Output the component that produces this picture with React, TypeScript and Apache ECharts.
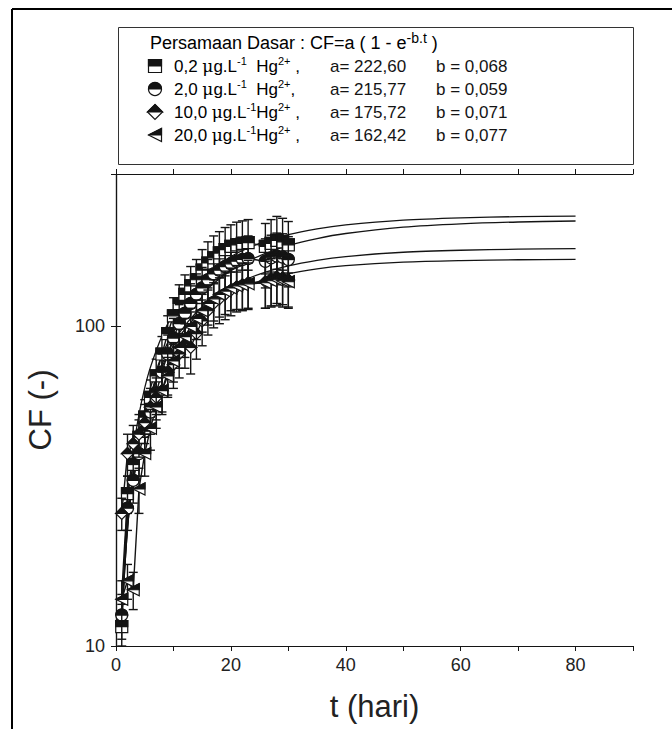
import React, { useEffect, useRef } from 'react';
import * as echarts from 'echarts';

// ---- data ----
const days = [1, 2, 3, 4, 5, 6, 7, 8, 9, 10, 11, 12, 13, 14, 15, 16, 17, 18, 19, 20, 21, 22, 23, 26, 27, 28, 29, 30];

const cf02 = [11.5, 30, 37, 45, 52, 60, 70, 82, 95, 108, 118, 126, 134, 140, 150, 158, 164, 170, 174, 178, 180, 182, 183, 178, 182, 186, 184, 180];
const err02 = [2, 4, 5, 6, 7, 8, 9, 11, 13, 15, 17, 19, 20, 22, 24, 26, 28, 28, 30, 30, 32, 32, 33, 32, 34, 35, 34, 33];

const cf20 = [12.5, 27, 33, 40, 47, 54, 62, 72, 82, 92, 102, 110, 118, 126, 132, 140, 146, 150, 154, 157, 160, 162, 163, 160, 164, 166, 165, 162];
const err20 = [2, 4, 5, 6, 7, 8, 9, 10, 12, 14, 15, 17, 18, 20, 21, 22, 24, 25, 26, 27, 28, 28, 29, 28, 29, 30, 30, 29];

const cf100 = [26, 40, 43, 46, 50, 56, 60, 63, 72, 76, 82, 88, 86, 95, 104, 112, 118, 122, 126, 130, 133, 135, 137, 138, 141, 143, 142, 140];
const err100 = [3, 6, 6, 7, 7, 8, 9, 10, 11, 12, 13, 14, 15, 16, 17, 18, 19, 20, 21, 22, 22, 23, 24, 24, 25, 25, 25, 25];

const cf200 = [14, 16, 15, 31, 40, 48, 56, 63, 70, 78, 86, 93, 100, 106, 112, 118, 122, 126, 129, 132, 134, 135, 136, 137, 139, 140, 139, 138];
const err200 = [2, 2, 2, 5, 6, 7, 8, 9, 10, 11, 12, 13, 14, 15, 16, 17, 18, 19, 20, 20, 21, 22, 22, 23, 24, 24, 24, 24];

// fitted curves CF = a(1 - e^(-b t))
const fitT = [1, 2, 3, 4, 5, 6, 8, 10, 12, 15, 20, 25, 30, 35, 40, 50, 60, 70, 80];
const fit02 = [14.6, 28.3, 41.1, 53.0, 64.2, 74.6, 93.4, 109.8, 124.2, 142.3, 165.5, 181.9, 193.7, 202.0, 207.9, 215.2, 218.8, 220.7, 221.6];
const fit20 = [12.4, 24.0, 35.0, 45.4, 55.1, 64.3, 81.2, 96.2, 109.5, 126.7, 149.5, 166.4, 179.0, 188.4, 195.4, 204.5, 209.5, 212.3, 213.8];
const fit100 = [12.0, 23.3, 33.7, 43.4, 52.5, 61.0, 76.2, 89.3, 100.8, 115.1, 133.2, 145.9, 154.8, 161.1, 165.5, 170.7, 173.2, 174.5, 175.1];
const fit200 = [12.0, 23.2, 33.5, 43.1, 51.9, 60.1, 74.7, 87.2, 98.0, 111.3, 127.6, 138.7, 146.3, 151.5, 155.0, 159.0, 160.8, 161.7, 162.1];

const legendConc = ['0,2', '2,0', '10,0', '20,0'];
const legendA = ['222,60', '215,77', '175,72', '162,42'];
const legendB = ['0,068', '0,059', '0,071', '0,077'];
const shapes = ['square', 'circle', 'diamond', 'triangle'];
const xLabels = [0, 20, 40, 60, 80];
const yLabels = [10, 100];

const FONT = '"Liberation Sans", Arial, Helvetica, sans-serif';
const INK = '#141414';

function markerEls(shape: string, cx: number, cy: number, s: number): any[] {
  const h = s / 2;
  const st = { stroke: INK, lineWidth: 1.2 };
  switch (shape) {
    case 'square':
      return [
        { type: 'rect', shape: { x: cx - h, y: cy - h, width: s, height: s }, style: { ...st, fill: '#fff' } },
        { type: 'rect', shape: { x: cx - h, y: cy - h, width: s, height: h }, style: { ...st, fill: INK } },
      ];
    case 'circle':
      return [
        { type: 'circle', shape: { cx, cy, r: h }, style: { ...st, fill: '#fff' } },
        { type: 'sector', shape: { cx, cy, r: h, r0: 0, startAngle: Math.PI, endAngle: Math.PI * 2, clockwise: true }, style: { ...st, fill: INK } },
      ];
    case 'diamond':
      return [
        { type: 'polygon', shape: { points: [[cx, cy - h], [cx + h, cy], [cx, cy + h], [cx - h, cy]] }, style: { ...st, fill: '#fff' } },
        { type: 'polygon', shape: { points: [[cx - h, cy], [cx, cy - h], [cx + h, cy]] }, style: { ...st, fill: INK } },
      ];
    default:
      return [
        { type: 'polygon', shape: { points: [[cx - h, cy], [cx + h, cy - h], [cx + h, cy + h]] }, style: { ...st, fill: '#fff' } },
        { type: 'polygon', shape: { points: [[cx - h, cy], [cx + h, cy - h], [cx + h, cy]] }, style: { ...st, fill: INK } },
      ];
  }
}

function makeRenderer(shape: string) {
  return (params: any, api: any) => {
    const t = api.value(0);
    const v = api.value(1);
    const e = api.value(2);
    const c = api.coord([t, v]);
    const hi = api.coord([t, v + e]);
    const lo = api.coord([t, Math.max(v - e, 10)]);
    const cap = 4.5;
    const ls = { stroke: INK, lineWidth: 1.4 };
    return {
      type: 'group',
      children: [
        { type: 'line', shape: { x1: c[0], y1: hi[1], x2: c[0], y2: lo[1] }, style: ls },
        { type: 'line', shape: { x1: c[0] - cap, y1: hi[1], x2: c[0] + cap, y2: hi[1] }, style: ls },
        { type: 'line', shape: { x1: c[0] - cap, y1: lo[1], x2: c[0] + cap, y2: lo[1] }, style: ls },
        ...markerEls(shape, c[0], c[1], 12),
      ],
    };
  };
}

const rich = {
  n: { fontSize: 17, fontFamily: FONT, color: INK, lineHeight: 22, verticalAlign: 'middle' },
  t: { fontSize: 18, fontFamily: FONT, color: INK, lineHeight: 24, verticalAlign: 'middle' },
  s: { fontSize: 11, fontFamily: FONT, color: INK, lineHeight: 11, verticalAlign: 'top' },
  st: { fontSize: 14, fontFamily: FONT, color: INK, lineHeight: 14, verticalAlign: 'top' },
  mu: { fontSize: 17, fontFamily: '"DejaVu Serif", serif', color: INK, lineHeight: 22, verticalAlign: 'middle' },
};

export default function App() {
  const ref = useRef<HTMLDivElement>(null);
  useEffect(() => {
    if (!ref.current) return;
    const chart = echarts.init(ref.current, undefined, { renderer: 'svg' });

    const seriesVals = [cf02, cf20, cf100, cf200];
    const seriesErr = [err02, err20, err100, err200];
    const fits = [fit02, fit20, fit100, fit200];

    const series: any[] = [];
    fits.forEach((f) => {
      series.push({
        type: 'line',
        data: fitT.map((t, i) => [t, f[i]]),
        smooth: 0.3,
        symbol: 'none',
        lineStyle: { color: INK, width: 1.3 },
        z: 2,
        silent: true,
      });
    });
    seriesVals.forEach((vals) => {
      series.push({
        type: 'line',
        data: days.map((t, i) => [t, vals[i]]),
        symbol: 'none',
        lineStyle: { color: INK, width: 1.4 },
        z: 2,
        silent: true,
      });
    });
    seriesVals.forEach((vals, k) => {
      series.push({
        type: 'custom',
        renderItem: makeRenderer(shapes[k]),
        data: days.map((t, i) => [t, vals[i], seriesErr[k][i]]),
        encode: { x: 0, y: 1 },
        z: 3,
        silent: true,
      });
    });

    const rowY = [66, 89, 112, 135];
    const graphics: any[] = [
      // outer frame
      { type: 'line', shape: { x1: 12, y1: 9, x2: 672, y2: 9 }, style: { stroke: '#000', lineWidth: 2 } },
      { type: 'line', shape: { x1: 12, y1: 9, x2: 12, y2: 729 }, style: { stroke: '#000', lineWidth: 2 } },
      // legend box
      { type: 'rect', shape: { x: 118.5, y: 27.5, width: 515, height: 137 }, style: { fill: 'none', stroke: '#333', lineWidth: 1 } },
      {
        type: 'text', x: 150, y: 43,
        style: { text: '{t|Persamaan Dasar : CF=a ( 1 - e}{st|-b.t}{t| )}', rich, verticalAlign: 'middle' },
      },
    ];
    rowY.forEach((y, k) => {
      const gap = k < 2 ? '  ' : '';
      const comma = k === 1 ? ',' : ' ,';
      graphics.push({
        type: 'group',
        children: markerEls(shapes[k], 155, y, k === 2 ? 15 : 13),
      });
      graphics.push({
        type: 'text', x: 174, y,
        style: { text: `{n|${legendConc[k]} }{mu|μ}{n|g.L}{s|-1}{n|${gap}Hg}{s|2+}{n|${comma}}`, rich, verticalAlign: 'middle' },
      });
      graphics.push({
        type: 'text', x: 330, y,
        style: { text: `a= ${legendA[k]}`, fontSize: 17, fontFamily: FONT, fill: INK, verticalAlign: 'middle' },
      });
      graphics.push({
        type: 'text', x: 436, y,
        style: { text: `b = ${legendB[k]}`, fontSize: 17, fontFamily: FONT, fill: INK, verticalAlign: 'middle' },
      });
    });

    const axisCommonX = {
      type: 'value', min: 0, max: 90, interval: 10,
      axisLine: { show: true, lineStyle: { color: INK, width: 1.2 } },
      axisTick: { show: true, length: 5, lineStyle: { color: INK } },
      splitLine: { show: false },
    };
    const axisCommonY = {
      type: 'log', logBase: 10, min: 10, max: 300,
      axisLine: { show: true, lineStyle: { color: INK, width: 1.2 } },
      axisTick: { show: true, length: 5, lineStyle: { color: INK } },
      splitLine: { show: false },
    };

    chart.setOption({
      animation: false,
      backgroundColor: '#fff',
      grid: { left: 116, top: 174, width: 517, height: 472, containLabel: false },
      xAxis: [
        {
          ...axisCommonX, position: 'bottom',
          axisLabel: {
            formatter: (v: number) => (xLabels.includes(v) ? String(v) : ''),
            fontSize: 18, fontFamily: FONT, color: '#222', margin: 10,
          },
          name: 't (hari)', nameLocation: 'middle', nameGap: 45,
          nameTextStyle: { fontSize: 31, fontFamily: FONT, color: '#222' },
        },
        { ...axisCommonX, position: 'top', axisLabel: { show: false } },
      ],
      yAxis: [
        {
          ...axisCommonY, position: 'left',
          axisLabel: {
            formatter: (v: number) => (yLabels.some((y) => Math.abs(y - v) < 1e-6) ? String(v) : ''),
            fontSize: 18, fontFamily: FONT, color: '#222', margin: 11,
          },
          name: 'CF (-)', nameLocation: 'middle', nameGap: 60,
          nameTextStyle: { fontSize: 31, fontFamily: FONT, color: '#222' },
        },
        { ...axisCommonY, position: 'right', axisLabel: { show: false } },
      ],
      graphic: graphics,
      series,
    });
    return () => chart.dispose();
  }, []);
  return <div ref={ref} style={{ position: 'absolute', left: 0, top: 0, width: 672, height: 729 }} />;
}
